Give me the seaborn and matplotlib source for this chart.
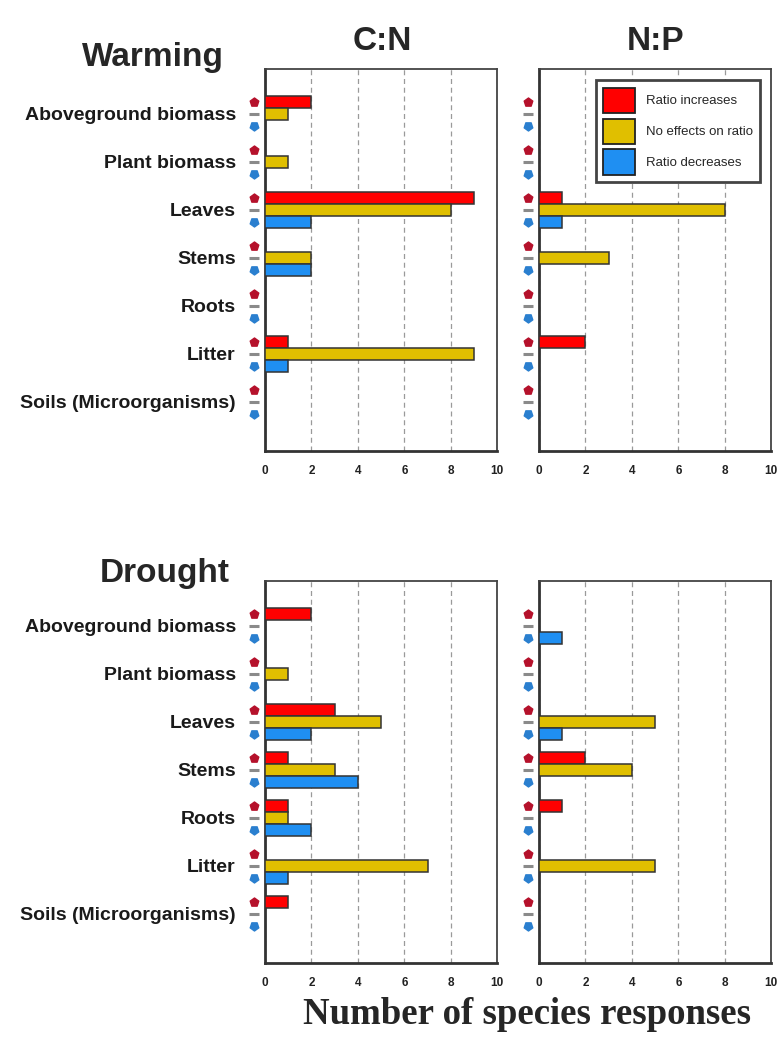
import numpy as np
import pandas as pd
import matplotlib
matplotlib.use('Agg')
import matplotlib.pyplot as plt
import seaborn as sns
from matplotlib.patches import Patch
from matplotlib.transforms import blended_transform_factory

# categories and response types
categories = ['Aboveground biomass', 'Plant biomass', 'Leaves', 'Stems', 'Roots', 'Litter',
              'Soils (Microorganisms)']
responses = ['Ratio increases', 'No effects on ratio', 'Ratio decreases']

# Warming, C:N  (increase / no effect / decrease)
warm_cn_up = [2, 0, 9, 0, 0, 1, 0]
warm_cn_eq = [1, 1, 8, 2, 0, 9, 0]
warm_cn_down = [0, 0, 2, 2, 0, 1, 0]
# Warming, N:P
warm_np_up = [0, 0, 1, 0, 0, 2, 0]
warm_np_eq = [0, 0, 8, 3, 0, 0, 0]
warm_np_down = [0, 0, 1, 0, 0, 0, 0]
# Drought, C:N
dry_cn_up = [2, 0, 3, 1, 1, 0, 1]
dry_cn_eq = [0, 1, 5, 3, 1, 7, 0]
dry_cn_down = [0, 0, 2, 4, 2, 1, 0]
# Drought, N:P
dry_np_up = [0, 0, 0, 2, 1, 0, 0]
dry_np_eq = [0, 0, 5, 4, 0, 5, 0]
dry_np_down = [1, 0, 1, 0, 0, 0, 0]

xticks = [0, 2, 4, 6, 8, 10]

palette = {'Ratio increases': '#ff0000', 'No effects on ratio': '#e0bf00', 'Ratio decreases': '#1f8ff2'}

sns.set_style('white')
plt.rcParams['font.family'] = ['Liberation Sans', 'DejaVu Sans']


def to_long(up, eq, down):
    df = pd.DataFrame({'category': categories, responses[0]: up, responses[1]: eq, responses[2]: down})
    return df.melt(id_vars='category', var_name='response', value_name='count')


def draw_panel(ax, up, eq, down, show_labels):
    df = to_long(up, eq, down)
    sns.barplot(data=df, y='category', x='count', hue='response', hue_order=responses, order=categories,
                palette=palette, saturation=1, orient='h', width=0.75, edgecolor='#333', linewidth=1.1,
                errorbar=None, legend=False, ax=ax, zorder=3)
    ax.set_xlim(0, 10)
    ax.set_ylim(7.03, -0.93)
    ax.set_xticks(xticks)
    ax.set_xlabel('')
    ax.set_ylabel('')
    ax.xaxis.grid(True, linestyle=(0, (4, 3)), color='#9a9a9a', linewidth=0.9)
    ax.yaxis.grid(False)
    ax.set_axisbelow(True)
    ax.tick_params(axis='x', direction='inout', length=6, width=1.2, color='#444', labelsize=8.5, pad=7)
    for lab in ax.get_xticklabels():
        lab.set_fontweight('bold')
        lab.set_color('#222')
    ax.tick_params(axis='y', length=0, pad=21)
    if show_labels:
        for lab in ax.get_yticklabels():
            lab.set_fontweight('bold')
            lab.set_fontsize(14)
            lab.set_color('#1a1a1a')
    else:
        ax.set_yticklabels([])
    for side in ['top', 'right']:
        ax.spines[side].set_linewidth(1.3)
        ax.spines[side].set_color('#444')
    for side in ['bottom', 'left']:
        ax.spines[side].set_linewidth(2.0)
        ax.spines[side].set_color('#333')
    # small response icons left of each group
    trans = blended_transform_factory(ax.transAxes, ax.transData)
    pos = np.arange(len(categories))
    xs = [-0.047] * len(categories)
    ax.scatter(xs, pos - 0.25, marker='p', s=42, color='#b5112b', transform=trans, clip_on=False, zorder=5)
    ax.scatter(xs, pos, marker='_', s=42, linewidths=2.2, color='#8a8a8a', transform=trans, clip_on=False,
               zorder=5)
    ax.scatter(xs, pos + 0.25, marker=(5, 0, 180), s=42, color='#2a7fcf', transform=trans, clip_on=False,
               zorder=5)


fig = plt.figure(figsize=(7.78, 10.41), dpi=100)
w = 0.2985
h = 0.367
ax1 = fig.add_axes([0.3406, 0.5668, w, h])
ax2 = fig.add_axes([0.6928, 0.5668, w, h])
ax3 = fig.add_axes([0.3406, 0.0749, w, h])
ax4 = fig.add_axes([0.6928, 0.0749, w, h])

draw_panel(ax1, warm_cn_up, warm_cn_eq, warm_cn_down, True)
draw_panel(ax2, warm_np_up, warm_np_eq, warm_np_down, False)
draw_panel(ax3, dry_cn_up, dry_cn_eq, dry_cn_down, True)
draw_panel(ax4, dry_np_up, dry_np_eq, dry_np_down, False)

handles = [Patch(facecolor=palette[r], edgecolor='#222', linewidth=1.3, label=r) for r in responses]
leg = ax2.legend(handles=handles, loc='upper right', bbox_to_anchor=(0.979, 0.987), fontsize=9.5,
                 frameon=True, fancybox=False, edgecolor='#444', framealpha=1,
                 handlelength=2.4, handleheight=2.6, borderpad=0.55, labelspacing=0.4, handletextpad=0.8)
leg.get_frame().set_linewidth(2)

fig.text(0.491, 0.960, 'C:N', ha='center', va='center', fontsize=24, fontweight='bold')
fig.text(0.842, 0.960, 'N:P', ha='center', va='center', fontsize=24, fontweight='bold')
fig.text(0.196, 0.945, 'Warming', ha='center', va='center', fontsize=24, fontweight='bold')
fig.text(0.212, 0.449, 'Drought', ha='center', va='center', fontsize=24, fontweight='bold')
fig.text(0.677, 0.025, 'Number of species responses', ha='center', va='center', fontsize=26.5,
         fontweight='bold', family=['Liberation Serif', 'DejaVu Serif'])

fig.savefig('out.png', dpi=100, facecolor='white')
